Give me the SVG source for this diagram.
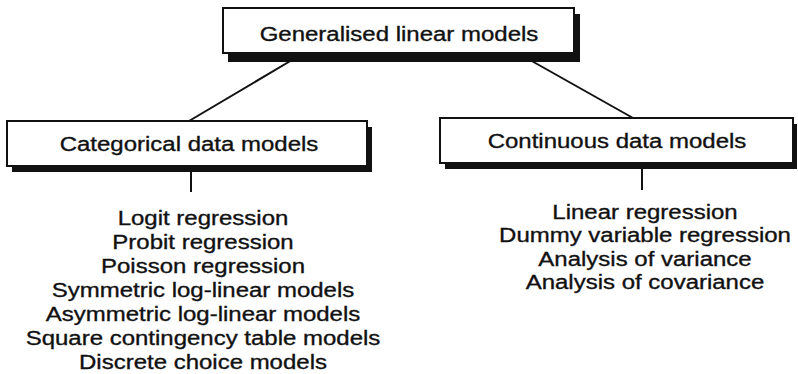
<svg xmlns="http://www.w3.org/2000/svg" width="798" height="374" viewBox="0 0 798 374">
<style>
text{font-family:"Liberation Sans",Arial,sans-serif;font-size:20.8px;fill:#111;stroke:#111;stroke-width:0.35;text-anchor:middle}
.box{fill:#fff;stroke:#111;stroke-width:2}
.sh{fill:#111}
.ln{stroke:#111;stroke-width:2;fill:none}
</style>
<rect width="798" height="374" fill="#fff"/>
<g id="connectors">
<line class="ln" x1="292" y1="60" x2="189" y2="121"/>
<line class="ln" x1="530" y1="60" x2="633" y2="118"/>
<line class="ln" x1="191" y1="172" x2="191" y2="192"/>
<line class="ln" x1="642" y1="168" x2="642" y2="190"/>
</g>
<g id="n-glm">
<rect class="sh" x="228" y="14" width="352" height="48"/>
<rect class="box" x="223" y="8" width="351" height="45"/>
<g transform="translate(399,0) scale(1.154,1)"><text x="0" y="41">Generalised linear models</text></g>
</g>
<g id="n-cat">
<rect class="sh" x="12" y="127" width="360" height="45"/>
<rect class="box" x="7" y="121" width="360" height="45"/>
<g transform="translate(189,0) scale(1.154,1)"><text x="0" y="151">Categorical data models</text></g>
</g>
<g id="n-cont">
<rect class="sh" x="445" y="124" width="352" height="45"/>
<rect class="box" x="440" y="118" width="353" height="45"/>
<g transform="translate(617,0) scale(1.154,1)"><text x="0" y="148">Continuous data models</text></g>
</g>
<g id="n-catlist" transform="translate(203,0) scale(1.154,1)">
<text x="0" y="225">Logit regression</text>
<text x="0" y="249">Probit regression</text>
<text x="0" y="273">Poisson regression</text>
<text x="0" y="297">Symmetric log-linear models</text>
<text x="0" y="321">Asymmetric log-linear models</text>
<text x="0" y="345">Square contingency table models</text>
<text x="0" y="369">Discrete choice models</text>
</g>
<g id="n-contlist" transform="translate(645,0) scale(1.154,1)">
<text x="0" y="219">Linear regression</text>
<text x="0" y="242.5">Dummy variable regression</text>
<text x="0" y="266">Analysis of variance</text>
<text x="0" y="289.5">Analysis of covariance</text>
</g>
</svg>
